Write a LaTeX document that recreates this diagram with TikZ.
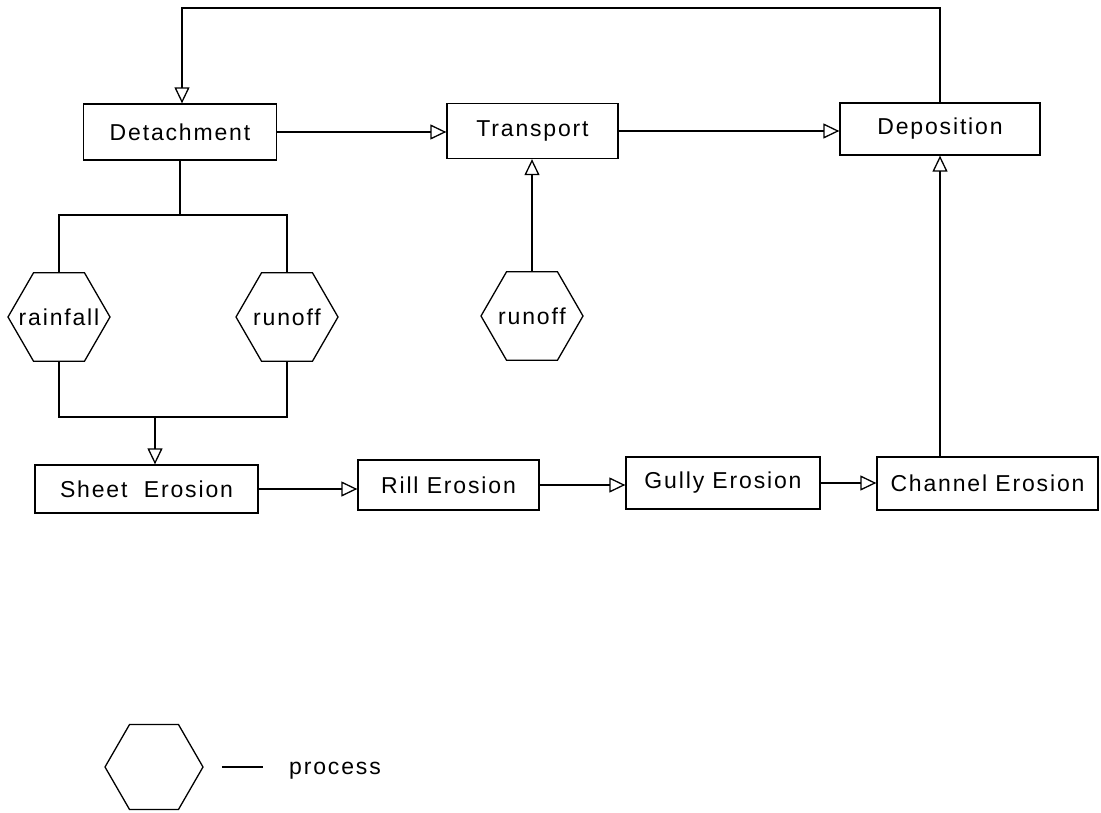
\documentclass[tikz,border=0pt]{standalone}
\usepackage{fontspec}
\setmainfont{Liberation Sans}[LetterSpace=8]
\usetikzlibrary{arrows.meta,shapes.geometric}
\begin{document}
\begin{tikzpicture}[x=1pt,y=-1pt,
  line width=1.3pt,
  every node/.style={font=\fontsize{23}{27}\selectfont},
  box/.style={draw, rectangle, inner sep=0pt},
  hexa/.style={draw, regular polygon, regular polygon sides=6, minimum size=#1, inner sep=0pt},
  hexa/.default=102pt,
  arr/.style={-{Triangle[open,length=16pt,width=15pt,line width=1.3pt]}}]
\useasboundingbox (0,0) rectangle (1101,813);
% boxes
\node[box, minimum width=193pt, minimum height=56pt] (det) at (180,132) {Detachment};
\node[box, minimum width=171pt, minimum height=55pt] (trans) at (532.5,131) {Transport};
\node[box, minimum width=200pt, minimum height=52pt] (depo) at (940,129) {Deposition};
\node[box, minimum width=223pt, minimum height=48pt] (sheet) at (146.5,489) {Sheet\ \ Erosion};
\node[box, minimum width=181pt, minimum height=50pt] (rill) at (448.5,485) {Rill Erosion};
\node[box, minimum width=194pt, minimum height=52pt] (gully) at (723,483) {Gully Erosion};
\node[box, minimum width=221pt, minimum height=53pt] (chan) at (987.5,483.5) {Channel Erosion};
% hexagons
\node[hexa, label={center:rainfall}] (rain) at (59,317) {};
\node[hexa, label={center:runoff}] (roA) at (287,317) {};
\node[hexa, label={center:runoff}] (roB) at (532,316) {};
% feedback loop
\coordinate (tl) at (182,8);
\draw[arr] (depo.north) |- (tl) -- (tl |- det.north);
% top row
\draw[arr] (det.east) -- (det.east -| trans.west);
\draw[arr] (trans.east) -- (trans.east -| depo.west);
% split to processes
\coordinate (sp) at (180,215);
\draw (det.south) -- (det.south |- sp);
\draw (rain.north) -- (rain.north |- sp) -- (roA.north |- sp) -- (roA.north);
\coordinate (jn) at (155,417);
\draw (rain.south) -- (rain.south |- jn) -- (roA.south |- jn) -- (roA.south);
\draw[arr] (jn) -- (jn |- sheet.north);
% runoff to transport
\draw[arr] (roB.north) -- (roB.north |- trans.south);
% bottom row
\draw[arr] (sheet.east) -- (sheet.east -| rill.west);
\draw[arr] (rill.east) -- (rill.east -| gully.west);
\draw[arr] (gully.east) -- (gully.east -| chan.west);
\draw[arr] (depo.south |- chan.north) -- (depo.south);
% legend
\node[hexa=98pt] (leg) at (154,767) {};
\node (proc) at (335,771) {process};
\draw ([xshift=18pt]leg.east) -- ([xshift=59pt]leg.east);
\end{tikzpicture}
\end{document}
